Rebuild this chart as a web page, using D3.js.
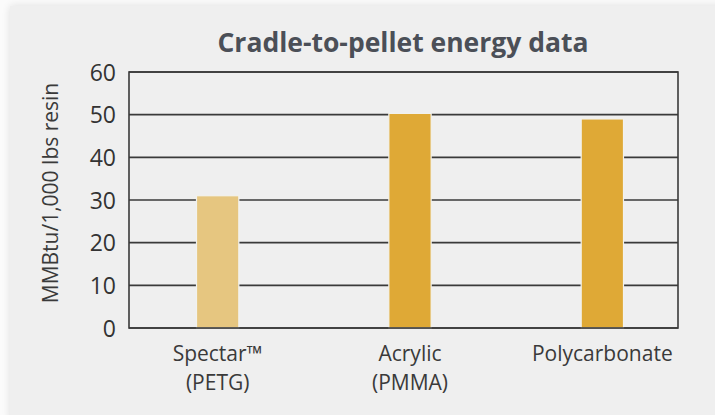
<!DOCTYPE html>
<html>
<head>
<meta charset="utf-8">
<script src="https://cdn.jsdelivr.net/npm/d3@7"></script>
<style>
  html, body { margin: 0; padding: 0; background: #ffffff; }
  svg { display: block; }
</style>
</head>
<body>
<svg id="chart" width="715" height="415"></svg>
<script>
const categories = ["Spectar™\n(PETG)", "Acrylic\n(PMMA)", "Polycarbonate"];
const values = [31, 50.3, 49];
const barColors = ["#e6c680", "#dfa936", "#dfa936"];
const yTicks = [0, 10, 20, 30, 40, 50, 60];
const titleText = "Cradle-to-pellet energy data";
const yLabel = "MMBtu/1,000 lbs resin";

(function () {
const W = 715, H = 415;
const svg = d3.select("#chart");
const FONT = "'Open Sans', sans-serif";

// panel with soft shadow
const defs = svg.append("defs");
const f = defs.append("filter").attr("id", "sh").attr("x", "-10%").attr("y", "-10%").attr("width", "120%").attr("height", "120%");
f.append("feGaussianBlur").attr("in", "SourceAlpha").attr("stdDeviation", 4);
f.append("feComponentTransfer").append("feFuncA").attr("type", "linear").attr("slope", 0.12);
const m = f.append("feMerge");
m.append("feMergeNode");
m.append("feMergeNode").attr("in", "SourceGraphic");

svg.append("rect").attr("width", W).attr("height", H).attr("fill", "#fbfbfb");
svg.append("rect").attr("x", 10).attr("y", 6).attr("width", W).attr("height", H)
  .attr("fill", "#efefef").attr("filter", "url(#sh)");

const pl = 129, pr = 678, pt = 72, pb = 328;

const y = d3.scaleLinear().domain([0, 60]).range([pb, pt]);
const x = d3.scaleBand().domain(categories).range([121.5, 698.5])
  .paddingInner(0.78).paddingOuter(0.39);

// gridlines
svg.append("g").selectAll("line").data(yTicks).join("line")
  .attr("x1", pl).attr("x2", pr)
  .attr("y1", d => y(d)).attr("y2", d => y(d))
  .attr("stroke", "#3a3a3a").attr("stroke-width", 1.6);

// bars
svg.append("g").selectAll("rect").data(values).join("rect")
  .attr("x", (d, i) => x(categories[i]))
  .attr("width", x.bandwidth())
  .attr("y", d => y(d))
  .attr("height", d => y(0) - y(d))
  .attr("fill", (d, i) => barColors[i])
  .attr("stroke", "#f2f2ee").attr("stroke-width", 1.2);

// frame
svg.append("rect").attr("x", pl).attr("y", pt)
  .attr("width", pr - pl).attr("height", pb - pt)
  .attr("fill", "none").attr("stroke", "#3a3a3a").attr("stroke-width", 1.6);

// y axis tick labels
const yAxis = d3.axisLeft(y).tickValues(yTicks).tickSize(0).tickPadding(13);
const ga = svg.append("g").attr("transform", `translate(${pl},0)`).call(yAxis);
ga.select(".domain").remove();
ga.selectAll("text").attr("font-family", FONT).attr("font-size", 23)
  .attr("fill", "#333").attr("dy", "0.36em");

// x category labels
const xl = svg.append("g").selectAll("text").data(categories).join("text")
  .attr("x", d => x(d) + x.bandwidth() / 2)
  .attr("y", 361)
  .attr("text-anchor", "middle")
  .attr("font-family", FONT).attr("font-size", 21).attr("fill", "#3a3a3a");
xl.each(function (d) {
  const lines = d.split("\n");
  d3.select(this).selectAll("tspan").data(lines).join("tspan")
    .attr("x", x(d) + x.bandwidth() / 2)
    .attr("dy", (l, i) => i === 0 ? 0 : 29)
    .text(l => l);
});

// y label
svg.append("text")
  .attr("transform", `translate(58,193) rotate(-90)`)
  .attr("text-anchor", "middle")
  .attr("font-family", FONT).attr("font-size", 21).attr("fill", "#3a3a3a")
  .text(yLabel);

// title
svg.append("text")
  .attr("x", 403).attr("y", 52)
  .attr("text-anchor", "middle")
  .attr("font-family", FONT).attr("font-weight", 700).attr("font-size", 26.5)
  .attr("fill", "#4b4f57")
  .text(titleText);
})();
</script>
</body>
</html>
